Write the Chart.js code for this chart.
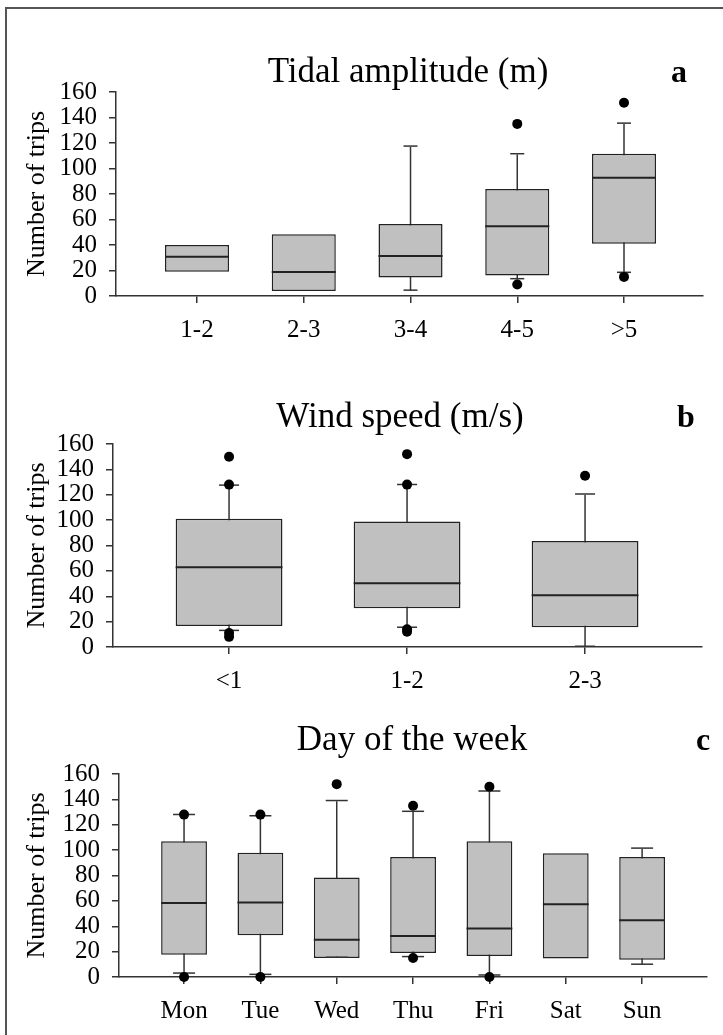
<!DOCTYPE html>
<html>
<head>
<meta charset="utf-8">
<script src="https://cdn.jsdelivr.net/npm/chart.js@4.4.1/dist/chart.umd.min.js"></script>
<style>
  body { margin: 0; background: #fff; }
  #page { position: relative; width: 723px; height: 1035px; overflow: hidden; font-family: "Liberation Serif", "Times New Roman", serif; }
  #frame { position: absolute; left: 5px; top: 7px; right: -4px; bottom: -4px; border-top: 2px solid #555; border-left: 2px solid #555; }
  canvas { position: absolute; left: 0; }
  .title { position: absolute; width: 400px; text-align: center; font-size: 35px; line-height: 1; color: #000; white-space: nowrap; }
  .letter { position: absolute; width: 40px; text-align: center; font-size: 32px; font-weight: bold; line-height: 1; color: #000; }
</style>
</head>
<body>
<div id="page">
  <div id="frame"></div>
  <canvas id="chartA" width="723" height="310" style="top:50px"></canvas>
  <canvas id="chartB" width="723" height="310" style="top:400px"></canvas>
  <canvas id="chartC" width="723" height="315" style="top:720px"></canvas>
  <div class="title" style="left:208px; top:53px">Tidal amplitude (m)</div>
  <div class="letter" style="left:659px; top:55px">a</div>
  <div class="title" style="left:200px; top:398px">Wind speed (m/s)</div>
  <div class="letter" style="left:666px; top:400px">b</div>
  <div class="title" style="left:212px; top:721px">Day of the week</div>
  <div class="letter" style="left:683px; top:723px">c</div>
</div>
<script>
// --- panel a: tidal amplitude ---
const tidalLabels = ["1-2", "2-3", "3-4", "4-5", ">5"];
const tidalQ1 = [19, 4, 14.5, 16, 41];
const tidalMedian = [30, 18, 30.5, 54, 92];
const tidalQ3 = [40, 48.5, 56.5, 84, 111.5];
const tidalLow = [null, null, 4, 13, 18];
const tidalHigh = [null, null, 117, 111, 135];
const tidalOutliers = [[], [], [], [135, 9], [151.5, 15]];

// --- panel b: wind speed ---
const windLabels = ["<1", "1-2", "2-3"];
const windQ1 = [16.5, 30.5, 15.5];
const windMedian = [62, 49.5, 40];
const windQ3 = [101, 99, 83.5];
const windLow = [12.5, 15, 0];
const windHigh = [127, 127.5, 120];
const windOutliers = [[150, 128, 11, 8], [152, 128, 14, 12], [135]];

// --- panel c: day of the week ---
const dayLabels = ["Mon", "Tue", "Wed", "Thu", "Fri", "Sat", "Sun"];
const dayQ1 = [17.5, 33, 15, 19, 16.5, 14.5, 13.5];
const dayMedian = [57.5, 58, 28.5, 31.5, 37.5, 56.5, 44];
const dayQ3 = [107, 98, 78.5, 94.5, 107, 97.5, 94.5];
const dayLow = [2.5, 1.5, 15, 15.5, 1, null, 9.5];
const dayHigh = [127.5, 126.5, 138.5, 130, 146, null, 101];
const dayOutliers = [[128, 0], [128, 0], [152], [135, 15], [150, 0], [], []];

const yTicks = [0, 20, 40, 60, 80, 100, 120, 140, 160];

const serif = "'Liberation Serif', 'Times New Roman', serif";
const axisColor = "#333";

// build the box plot layers (whisker, box, median, caps, outliers) as datasets
function boxDatasets(q1, med, q3, low, high, outliers, capWidth) {
    const whiskers = [], boxes = [], medians = [], caps = [], points = [];
    q1.forEach((v, i) => {
        const x = i + 1;
        boxes.push({ x: x, y: [q1[i], q3[i]] });
        medians.push({ x: x, y: [med[i], med[i]] });
        if (low[i] !== null || high[i] !== null) {
            whiskers.push({ x: x, y: [low[i] ?? q1[i], high[i] ?? q3[i]] });
        }
        if (low[i] !== null) caps.push({ x: x, y: [low[i], low[i]] });
        if (high[i] !== null) caps.push({ x: x, y: [high[i], high[i]] });
        outliers[i].forEach(o => points.push({ x: x, y: o }));
    });
    return [
        { type: "scatter", data: points, order: 0, pointRadius: 5, pointHoverRadius: 5,
          pointBackgroundColor: "#000", pointBorderWidth: 0, clip: false },
        { type: "bar", data: caps, order: 1, grouped: false, maxBarThickness: capWidth,
          minBarLength: 1.5, backgroundColor: axisColor, borderWidth: 0 },
        { type: "bar", data: medians, order: 2, grouped: false, barPercentage: 0.6,
          categoryPercentage: 1, minBarLength: 2, backgroundColor: "#222", borderWidth: 0 },
        { type: "bar", data: boxes, order: 3, grouped: false, barPercentage: 0.6,
          categoryPercentage: 1, backgroundColor: "#c0c0c0", borderColor: "#222",
          borderWidth: 1.5, borderSkipped: false },
        { type: "bar", data: whiskers, order: 4, grouped: false, maxBarThickness: 1.5,
          backgroundColor: axisColor, borderWidth: 0 }
    ];
}

function makeChart(id, labels, datasets, frame) {
    const canvas = document.getElementById(id);
    const h = canvas.height;
    return new Chart(canvas, {
        data: { datasets: datasets },
        options: {
            responsive: false,
            animation: false,
            events: [],
            layout: { padding: { top: frame.plotTop - frame.top, right: 723 - frame.plotRight, left: 0, bottom: 0 } },
            plugins: { legend: { display: false }, tooltip: { enabled: false } },
            scales: {
                x: {
                    type: "linear",
                    offset: false,
                    min: frame.xMin,
                    max: frame.xMax,
                    afterBuildTicks: s => { s.ticks = labels.map((l, i) => ({ value: i + 1 })); },
                    afterFit: s => { s.height = frame.top + h - frame.plotBottom; },
                    ticks: {
                        autoSkip: false, maxRotation: 0, padding: 12, color: "#000",
                        font: { family: serif, size: 25 },
                        callback: v => labels[v - 1]
                    },
                    grid: { offset: false, drawOnChartArea: false, tickLength: 7, color: axisColor, lineWidth: 1.5 },
                    border: { color: axisColor, width: 1.5 }
                },
                y: {
                    min: 0,
                    max: 160,
                    afterBuildTicks: s => { s.ticks = yTicks.map(v => ({ value: v })); },
                    afterFit: s => { s.width = frame.plotLeft; },
                    ticks: { autoSkip: false, padding: 12, color: "#000", font: { family: serif, size: 25 } },
                    title: {
                        display: true, text: "Number of trips", color: "#000",
                        font: { family: serif, size: 26 }, padding: { top: 22, bottom: 0 }
                    },
                    grid: { drawOnChartArea: false, tickLength: 7, color: axisColor, lineWidth: 1.5 },
                    border: { color: axisColor, width: 1.5 }
                }
            }
        }
    });
}

makeChart("chartA", tidalLabels,
    boxDatasets(tidalQ1, tidalMedian, tidalQ3, tidalLow, tidalHigh, tidalOutliers, 14),
    { top: 50, plotTop: 92, plotBottom: 296, plotLeft: 116, plotRight: 703, xMin: 0.241, xMax: 5.74 });

makeChart("chartB", windLabels,
    boxDatasets(windQ1, windMedian, windQ3, windLow, windHigh, windOutliers, 20),
    { top: 400, plotTop: 444, plotBottom: 647, plotLeft: 113, plotRight: 702, xMin: 0.348, xMax: 3.657 });

makeChart("chartC", dayLabels,
    boxDatasets(dayQ1, dayMedian, dayQ3, dayLow, dayHigh, dayOutliers, 22),
    { top: 720, plotTop: 774, plotBottom: 977, plotLeft: 119, plotRight: 707, xMin: 0.148, xMax: 7.85 });
</script>
</body>
</html>
